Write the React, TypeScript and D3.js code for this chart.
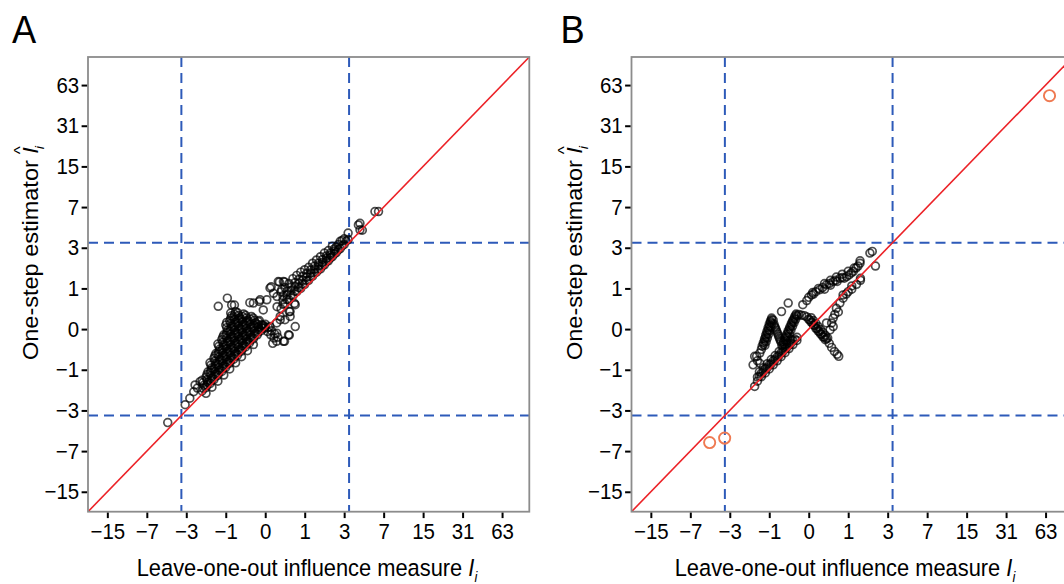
import React, { Component } from 'react';
import * as d3 from 'd3';

const FONT = '"Liberation Sans", Arial, Helvetica, sans-serif';

// axis ticks (same on both axes, both panels)
const tickValues = [-15, -7, -3, -1, 0, 1, 3, 7, 15, 31, 63];
const axisLimits = [-21.47, 102.25];
const cutoff = 3.36;

const panelLabels = ['A', 'B'];
const xTitle = 'Leave-one-out influence measure ';
const yTitle = 'One-step estimator ';

// ---- panel A : [I_i, Î_i] ----
const tailA = [
  [-4.54, -3.92], [-3.08, -2.63], [-2.76, -2.25], [-2.51, -1.91], [-2.43, -1.59],
  [-2.14, -1.45], [-2.29, -1.73]
];

const massA = [
  [-2.03, -1.868], [-1.928, -1.603], [-2.03, -1.395],
  [-1.828, -1.713], [-1.732, -1.479], [-1.828, -1.266], [-1.732, -1.07],
  [-1.639, -1.531], [-1.549, -1.314], [-1.639, -1.114], [-1.549, -0.932], [-1.639, -0.778],
  [-1.462, -1.362], [-1.378, -1.158], [-1.462, -0.973], [-1.378, -0.803], [-1.462, -0.647], [-1.378, -0.516],
  [-1.297, -1.204], [-1.219, -1.014], [-1.297, -0.84], [-1.219, -0.682], [-1.297, -0.537], [-1.219, -0.404], [-1.297, -0.292],
  [-1.144, -1.056], [-1.07, -0.879], [-1.144, -0.717], [-1.07, -0.569], [-1.144, -0.434], [-1.07, -0.31], [-1.144, -0.198], [-1.07, -0.102],
  [-1.0, -0.919], [-0.932, -0.753], [-1.0, -0.602], [-0.932, -0.464], [-1.0, -0.338], [-0.932, -0.223], [-1.0, -0.117], [-0.932, -0.021], [-1.0, 0.072],
  [-0.866, -0.79], [-0.803, -0.636], [-0.866, -0.495], [-0.803, -0.366], [-0.866, -0.248], [-0.803, -0.141], [-0.866, -0.043], [-0.803, 0.05], [-0.866, 0.149], [-0.803, 0.257],
  [-0.741, -0.67], [-0.682, -0.526], [-0.741, -0.395], [-0.682, -0.275], [-0.741, -0.165], [-0.682, -0.064], [-0.741, 0.028], [-0.682, 0.125], [-0.741, 0.231], [-0.682, 0.347],
  [-0.625, -0.558], [-0.569, -0.424], [-0.625, -0.301], [-0.569, -0.189], [-0.625, -0.087], [-0.569, 0.007], [-0.625, 0.102], [-0.569, 0.206], [-0.625, 0.32],
  [-0.516, -0.454], [-0.464, -0.329], [-0.516, -0.214], [-0.464, -0.11], [-0.516, -0.014], [-0.464, 0.079], [-0.516, 0.181], [-0.464, 0.292],
  [-0.414, -0.357], [-0.366, -0.24], [-0.414, -0.133], [-0.366, -0.035], [-0.414, 0.057], [-0.366, 0.157], [-0.414, 0.266],
  [-0.32, -0.266], [-0.275, -0.157], [-0.32, -0.057], [-0.275, 0.035], [-0.32, 0.133], [-0.275, 0.24],
  [-0.231, -0.181], [-0.189, -0.079], [-0.231, 0.014], [-0.189, 0.11], [-0.231, 0.206],
  [-0.149, -0.102], [-0.11, -0.007], [-0.149, 0.087], [-0.11, 0.157],
  [-0.072, -0.028], [-0.035, 0.064], [0, 0.035]
];

// the overplotted core, second pass between the rows above
const massA2 = [
  [-1.979, -1.742], [-1.979, -1.491],
  [-1.78, -1.594], [-1.78, -1.37], [-1.78, -1.166],
  [-1.594, -1.42], [-1.594, -1.211], [-1.594, -1.021], [-1.594, -0.847],
  [-1.42, -1.258], [-1.42, -1.063], [-1.42, -0.886], [-1.42, -0.723], [-1.42, -0.575],
  [-1.258, -1.107], [-1.258, -0.925], [-1.258, -0.759], [-1.258, -0.608], [-1.258, -0.469], [-1.258, -0.342],
  [-1.107, -0.966], [-1.107, -0.796], [-1.107, -0.642], [-1.107, -0.5], [-1.107, -0.371], [-1.107, -0.253], [-1.107, -0.145],
  [-0.966, -0.834], [-0.966, -0.676], [-0.966, -0.532], [-0.966, -0.4], [-0.966, -0.279], [-0.966, -0.169], [-0.966, -0.068], [-0.966, 0.025], [-0.966, 0.121],
  [-0.834, -0.711], [-0.834, -0.564], [-0.834, -0.429], [-0.834, -0.306], [-0.834, -0.193], [-0.834, -0.09], [-0.834, 0.003], [-0.834, 0.098], [-0.834, 0.202], [-0.834, 0.315],
  [-0.711, -0.597], [-0.711, -0.459], [-0.711, -0.333], [-0.711, -0.219], [-0.711, -0.113], [-0.711, -0.017], [-0.711, 0.075], [-0.711, 0.177], [-0.711, 0.288],
  [-0.597, -0.49], [-0.597, -0.361], [-0.597, -0.244], [-0.597, -0.137], [-0.597, -0.039], [-0.597, 0.053], [-0.597, 0.153], [-0.597, 0.261],
  [-0.49, -0.39], [-0.49, -0.27], [-0.49, -0.161], [-0.49, -0.061], [-0.49, 0.032], [-0.49, 0.129], [-0.49, 0.236],
  [-0.39, -0.297], [-0.39, -0.185], [-0.39, -0.083], [-0.39, 0.01], [-0.39, 0.106], [-0.39, 0.21],
  [-0.297, -0.21], [-0.297, -0.106], [-0.297, -0.01], [-0.297, 0.083], [-0.297, 0.185],
  [-0.21, -0.129], [-0.21, -0.032], [-0.21, 0.061], [-0.21, 0.161],
  [-0.129, -0.053], [-0.129, 0.039], [-0.129, 0.137],
  [-0.053, 0.017], [-0.053, 0.072]
];

// core points sitting just under the diagonal
const massEdgeA = [
  [-1.828, -1.99], [-1.549, -1.695], [-1.297, -1.428], [-1.07, -1.188], [-0.866, -0.973],
  [-0.682, -0.778], [-0.516, -0.602], [-0.366, -0.444], [-0.231, -0.301]
];

const streakA = [
  [-0.072, 0.072], [-0.014, 0.014], [0.043, -0.043], [0.102, -0.102], [0.165, -0.165], [0.223, -0.231],
  [0, 0.087], [0.057, 0.028], [0.117, -0.028], [0.181, -0.087], [0.248, -0.149]
];

const bandA = [
  [0.231, 0.464], [0.231, 0.741],
  [0.32, 0.414], [0.366, 0.647], [0.32, 0.892],
  [0.414, 0.537], [0.464, 0.79], [0.414, 1.028],
  [0.516, 0.647], [0.569, 0.932], [0.516, 1.173],
  [0.625, 0.765], [0.682, 1.056], [0.625, 1.362],
  [0.741, 0.892], [0.803, 1.173], [0.741, 1.497],
  [0.866, 1.0], [0.932, 1.297], [0.866, 1.639],
  [1.0, 1.144], [1.07, 1.428], [1.0, 1.751],
  [1.144, 1.297], [1.219, 1.603], [1.144, 1.868],
  [1.297, 1.462], [1.378, 1.789], [1.297, 2.074],
  [1.462, 1.639], [1.549, 1.949], [1.462, 2.249],
  [1.639, 1.789], [1.732, 2.117], [1.639, 2.434],
  [1.828, 1.99], [1.928, 2.34], [1.828, 2.655],
  [2.031, 2.204], [2.138, 2.531], [2.031, 2.811],
  [2.249, 2.434], [2.364, 2.784], [2.249, 3.112],
  [2.482, 2.681], [2.482, 3.056],
  [2.732, 2.945], [2.732, 3.469],
  [3.0, 3.228], [3.0, 3.659],
  [3.287, 3.595], [3.287, 4.134]
];

const bandA2 = [
  [0.366, 0.526], [0.366, 0.765], [0.464, 0.659], [0.464, 0.905], [0.569, 0.778], [0.569, 1.042],
  [0.682, 0.905], [0.682, 1.204], [0.803, 1.028], [0.803, 1.33], [0.932, 1.144], [0.932, 1.462],
  [1.07, 1.282], [1.07, 1.585], [1.219, 1.445], [1.219, 1.732], [1.378, 1.603], [1.378, 1.928],
  [1.549, 1.77], [1.549, 2.074], [1.732, 1.949], [1.732, 2.272], [1.928, 2.16], [1.928, 2.482],
  [2.138, 2.364], [2.138, 2.655], [2.364, 2.605], [2.364, 2.918], [2.605, 2.864], [2.605, 3.228],
  [2.864, 3.14], [2.864, 3.532], [3.14, 3.469]
];

const topA = [
  [4.134, 4.897], [4.278, 5.063], [4.502, 4.389], [4.278, 4.426], [5.868, 6.413], [6.311, 6.413]
];

const scatterA = [
  [-1.282, 0.474], [-0.945, 0.694], [-0.803, 0.505], [-0.717, 0.505], [-0.31, 0.569], [-0.11, 0.602],
  [-0.231, 0.558], [-0.094, 0.647], [-0.035, 0.385], [0.028, 0.647], [0.087, 1.014], [0.11, 1.056],
  [0.157, 0.84], [0.257, 1.25], [0.283, 1.227], [0.376, 1.25], [0.404, 1.235], [0.338, 0.959],
  [0.548, 0.24], [0.694, 0.043], [0.505, -0.102], [0.223, -0.072], [0.301, 0.173], [0.087, 0.043],
  [0.376, -0.231], [0.548, 0.347], [0.694, 0.516], [0.301, 0.24], [0.414, 0.173], [0.223, 0.11],
  [0.141, -0.275], [0.404, -0.231], [0.526, -0.11], [0.526, 0.347], [0.67, 0.548]
];

// ---- panel B : [I_i, Î_i] ----
const lowerB = [
  [-1.585, -1.657], [-1.462, -1.428], [-1.462, -1.266], [-1.297, -1.25], [-1.297, -1.114],
  [-1.144, -1.114], [-1.144, -0.973], [-1.0, -0.973], [-1.0, -0.84], [-0.866, -0.84],
  [-0.866, -0.717], [-0.741, -0.717], [-0.741, -0.602], [-0.625, -0.602], [-0.625, -0.495],
  [-0.516, -0.495], [-0.516, -0.395], [-0.414, -0.395], [-0.414, -0.301], [-0.32, -0.301],
  [-0.32, -0.214], [-0.231, -0.214], [-0.231, -0.149],
  [-1.378, -1.235], [-1.219, -1.07], [-1.07, -0.932], [-0.932, -0.803], [-0.803, -0.682],
  [-0.682, -0.569], [-0.569, -0.464], [-0.464, -0.366], [-0.366, -0.275], [-0.275, -0.189],
  [-1.378, -1.07], [-1.219, -0.932], [-1.07, -0.803], [-0.932, -0.682], [-0.803, -0.569],
  [-0.682, -0.464], [-0.569, -0.366], [-0.464, -0.275], [-0.366, -0.189]
];

const leftBarB = [
  [-1.297, -0.414], [-1.266, -0.338], [-1.219, -0.257], [-1.173, -0.181], [-1.129, -0.11],
  [-1.085, -0.043], [-1.042, 0.021], [-1.0, 0.087], [-0.959, 0.149], [-0.919, 0.206],
  [-1.158, -0.32], [-1.114, -0.24], [-1.07, -0.165], [-1.028, -0.094], [-0.986, -0.028],
  [-0.945, 0.035], [-0.905, 0.102], [-0.866, 0.165],
  [-1.212, -0.297], [-1.166, -0.219], [-1.121, -0.145], [-1.078, -0.075], [-1.035, -0.01],
  [-0.993, 0.053], [-0.952, 0.121], [-0.912, 0.177]
];

const zigzagB = [
  [-0.84, 0.087], [-0.79, 0.014], [-0.741, -0.057], [-0.694, -0.133], [-0.647, -0.214],
  [-0.815, 0.043], [-0.765, -0.021], [-0.717, -0.094], [-0.67, -0.173], [-0.625, -0.248],
  [-0.602, -0.32], [-0.558, -0.24], [-0.516, -0.165], [-0.474, -0.094], [-0.434, -0.028],
  [-0.395, 0.035], [-0.357, 0.102], [-0.32, 0.165], [-0.283, 0.231], [-0.248, 0.292],
  [-0.526, -0.301], [-0.485, -0.223], [-0.444, -0.149], [-0.404, -0.079], [-0.366, -0.014],
  [-0.329, 0.05], [-0.292, 0.117], [-0.257, 0.181], [-0.223, 0.248],
  [-0.564, -0.279], [-0.521, -0.202], [-0.479, -0.129], [-0.439, -0.061], [-0.4, 0.003],
  [-0.361, 0.068], [-0.324, 0.137], [-0.288, 0.198], [-0.253, 0.266],
  [-0.189, 0.283], [-0.133, 0.266], [-0.079, 0.257], [-0.035, 0.231],
  [0, 0.181], [0.043, 0.125], [0.087, 0.072], [0.133, 0.014], [0.181, -0.035],
  [0.231, -0.087], [0.283, -0.141], [0.338, -0.198],
  [0.043, 0.214], [0.087, 0.157], [0.133, 0.102], [0.181, 0.043], [0.231, -0.007],
  [0.283, -0.057], [0.338, -0.11], [0.395, -0.165],
  [0.021, 0.169], [0.064, 0.113], [0.11, 0.061], [0.157, 0.007], [0.206, -0.046],
  [0.257, -0.098], [0.31, -0.149], [0.366, -0.181],
  [0.434, -0.275], [0.495, -0.366], [0.569, -0.464], [0.647, -0.537], [0.694, -0.591]
];

const upperB = [
  [-0.11, 0.516], [-0.035, 0.625], [0, 0.717], [0.05, 0.79], [0.087, 0.815], [0.133, 0.892],
  [0.214, 0.959], [0.275, 1.028], [0.32, 0.973], [0.366, 1.129], [0.434, 1.173], [0.464, 1.114],
  [0.537, 1.25], [0.602, 1.297], [0.647, 1.25], [0.729, 1.378], [0.803, 1.412], [0.866, 1.378],
  [0.945, 1.445], [1.028, 1.514], [1.114, 1.603], [1.188, 1.676], [1.297, 1.828], [1.378, 1.928],
  [1.462, 2.074], [1.928, 2.655], [2.052, 2.758],
  [0.072, 0.866], [0.189, 1.0], [0.32, 1.173], [0.464, 1.297], [0.625, 1.428], [0.803, 1.549],
  [1.0, 1.676], [1.219, 1.828], [1.462, 2.204]
];

const scatterB = [
  [-1.657, -0.84], [-1.497, -0.591], [-1.362, -0.505], [-1.585, -0.591], [-1.362, -0.79],
  [-1.462, -0.717], [-0.613, 0.347], [-0.434, 0.558],
  [0.366, 0.11], [0.454, -0.014], [0.537, 0.043], [0.537, 0.206], [0.625, 0.424], [0.729, 0.558],
  [0.828, 0.694], [0.828, 0.79], [1.129, 0.973], [1.129, 1.085], [1.314, 1.144], [1.479, 1.297],
  [1.479, 1.378], [2.227, 1.928], [0.58, 0.283], [0.495, 0.11], [0.932, 0.815], [1.0, 0.892],
  [0.682, 0.338]
];

const flaggedB = [
  [-4.696, -5.916], [-3.377, -5.408], [67.6, 52.4]
];

const panelPoints = [
  [...tailA, ...massA, ...massA2, ...massEdgeA, ...streakA, ...bandA, ...bandA2, ...topA, ...scatterA],
  [...lowerB, ...leftBarB, ...zigzagB, ...upperB, ...scatterB]
];
const panelFlagged = [[], flaggedB];

// layout
const TOP = 57;
const BOTTOM = 511.7;
const SQUEEZE = 0.93; // the figure is a little narrower than tall
const layout = [
  { left: 88, right: 529.3, labelX: 12, xTitleX: 307, yTitleX: 38 },
  { left: 631.5, right: 1072.8, labelX: 560.5, xTitleX: 845, yTitleX: 582 }
];

export default class Chart extends Component {
  componentDidMount() {
    const svg = d3.select(this.chartRef);
    svg.selectAll('*').remove();
    layout.forEach((l, i) => this.drawPanel(svg, l, i));
  }

  drawPanel(svg, l, i) {
    const x = d3.scaleSymlog().constant(1).domain(axisLimits).range([l.left, l.right]);
    const y = d3.scaleSymlog().constant(1).domain(axisLimits).range([BOTTOM, TOP]);

    const g = svg.append('g');
    const clipId = 'clip-' + i;
    g.append('clipPath')
      .attr('id', clipId)
      .append('rect')
      .attr('x', l.left)
      .attr('y', TOP)
      .attr('width', l.right - l.left)
      .attr('height', BOTTOM - TOP);

    const plot = g.append('g').attr('clip-path', `url(#${clipId})`);

    // cut-off lines
    [-cutoff, cutoff].forEach(c => {
      plot
        .append('line')
        .attr('x1', x(c))
        .attr('x2', x(c))
        .attr('y1', TOP)
        .attr('y2', BOTTOM)
        .attr('stroke', '#2d5ab9')
        .attr('stroke-width', 2)
        .attr('stroke-dasharray', '10,6');
      plot
        .append('line')
        .attr('x1', l.left)
        .attr('x2', l.right)
        .attr('y1', y(c))
        .attr('y2', y(c))
        .attr('stroke', '#2d5ab9')
        .attr('stroke-width', 2)
        .attr('stroke-dasharray', '10,6');
    });

    plot
      .selectAll('.pt')
      .data(panelPoints[i])
      .enter()
      .append('circle')
      .attr('class', 'pt')
      .attr('cx', d => x(d[0]))
      .attr('cy', d => y(d[1]))
      .attr('r', 3.9)
      .attr('fill', 'none')
      .attr('stroke', '#000')
      .attr('stroke-opacity', 0.7)
      .attr('stroke-width', 1.7);

    plot
      .selectAll('.flag')
      .data(panelFlagged[i])
      .enter()
      .append('circle')
      .attr('class', 'flag')
      .attr('cx', d => x(d[0]))
      .attr('cy', d => y(d[1]))
      .attr('r', 5.6)
      .attr('fill', 'none')
      .attr('stroke', '#ef7a52')
      .attr('stroke-width', 1.9);

    // y = x
    plot
      .append('path')
      .attr('d', d3.line().x(d => x(d))
        .y(d => y(d))(axisLimits))
      .attr('stroke', '#ec2227')
      .attr('stroke-width', 1.6)
      .attr('fill', 'none');

    g.append('rect')
      .attr('x', l.left)
      .attr('y', TOP)
      .attr('width', l.right - l.left)
      .attr('height', BOTTOM - TOP)
      .attr('fill', 'none')
      .attr('stroke', '#8c8c8c')
      .attr('stroke-width', 1.8);

    const fmt = d3.format('d');

    const gx = g
      .append('g')
      .attr('transform', `translate(0,${BOTTOM + 0.9})`)
      .call(d3.axisBottom(x).tickValues(tickValues).tickFormat(fmt).tickSizeInner(5.5).tickSizeOuter(0).tickPadding(5.5));
    const gy = g
      .append('g')
      .attr('transform', `translate(${l.left - 0.9},0)`)
      .call(d3.axisLeft(y).tickValues(tickValues).tickFormat(fmt).tickSizeInner(5.5).tickSizeOuter(0).tickPadding(3));

    [gx, gy].forEach(a => {
      a.select('.domain').remove();
      a.attr('font-size', 22).attr('font-family', FONT);
      a.selectAll('.tick line').attr('stroke', '#000').attr('stroke-width', 2);
      a.selectAll('.tick text').attr('fill', '#000').attr('transform', `scale(${SQUEEZE},1)`);
    });

    // panel letter
    g.append('text')
      .attr('transform', `translate(${l.labelX},43) scale(${SQUEEZE},1)`)
      .attr('font-family', FONT)
      .attr('font-size', 39)
      .attr('fill', '#000')
      .text(panelLabels[i]);

    // x title
    const xt = g
      .append('text')
      .attr('transform', `translate(${l.xTitleX},576) scale(${SQUEEZE},1)`)
      .attr('text-anchor', 'middle')
      .attr('font-family', FONT)
      .attr('font-size', 23.5)
      .attr('fill', '#000');
    xt.append('tspan').text(xTitle.replace(/ $/, '\u00a0'));
    xt.append('tspan').attr('font-style', 'italic').text('I');
    xt.append('tspan').attr('font-style', 'italic').attr('font-size', 14).attr('dy', 6).text('i');

    // y title
    const yt = g
      .append('text')
      .attr('transform', `translate(${l.yTitleX},360) scale(${SQUEEZE},1) rotate(-90)`)
      .attr('font-family', FONT)
      .attr('font-size', 23.5)
      .attr('fill', '#000');
    yt.append('tspan').text(yTitle.replace(/ $/, '\u00a0'));
    yt.append('tspan').attr('font-style', 'italic').text('I');
    yt.append('tspan').attr('font-size', 17).attr('dx', -7).attr('dy', -13).text('^');
    yt.append('tspan').attr('font-style', 'italic').attr('font-size', 14).attr('dx', -3).attr('dy', 19).text('i');
  }

  render() {
    return (
      <svg
        width={1064}
        height={584}
        style={{ position: 'absolute', left: 0, top: 0, background: '#fff' }}
        ref={r => (this.chartRef = r)}
      />
    );
  }
}
